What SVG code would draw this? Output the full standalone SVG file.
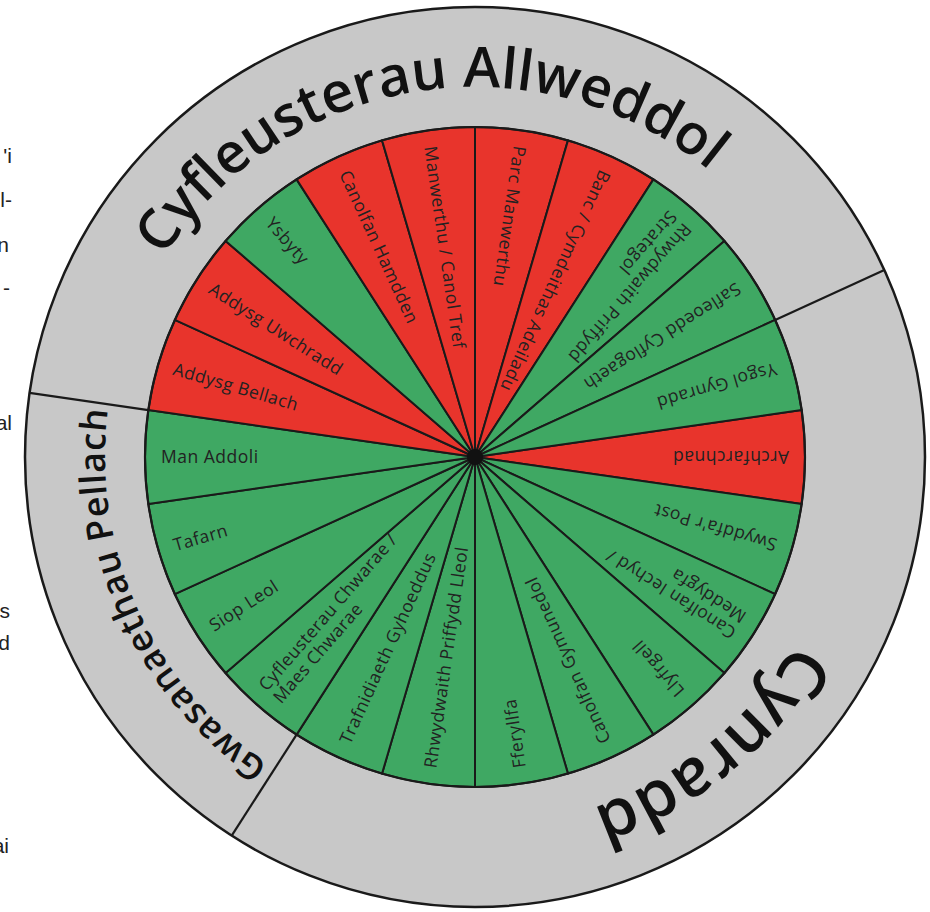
<svg xmlns="http://www.w3.org/2000/svg" width="930" height="912" viewBox="0 0 930 912">
<style>
.g{fill:#3fa863}
.r{fill:#e8342c}
.wedge path{stroke:#1a1a1a;stroke-width:2;stroke-linejoin:round}
.lbl{font-family:"Open Sans","Noto Sans",sans-serif;font-size:17.5px;fill:#222;letter-spacing:0.5px}
.ttl{font-family:"Open Sans","Noto Sans",sans-serif;font-weight:600;fill:#111}
.frag{font-family:"Liberation Sans",Arial,sans-serif;font-size:21px;fill:#222}
.div{stroke:#1a1a1a;stroke-width:2.2}
</style>
<defs>
<path id="ring" d="M845,457 A370,370 0 1 1 105,457 A370,370 0 1 1 845,457" fill="none"/>
</defs>
<rect width="930" height="912" fill="#ffffff"/>
<g id="fragments" class="frag" text-anchor="end">
<text x="12" y="163">'i</text>
<text x="12" y="207">l-</text>
<text x="9" y="252">n</text>
<text x="10" y="295">-</text>
<text x="12" y="430">al</text>
<text x="10" y="618">s</text>
<text x="10" y="650">d</text>
<text x="9" y="853">ai</text>
</g>
<g id="outer-ring">
<circle cx="475" cy="457" r="450" fill="#c8c8c8" stroke="#1a1a1a" stroke-width="2.5"/>
</g>
<g id="connectors">
<line class="div" x1="775.18" y1="319.91" x2="884.33" y2="270.06"/>
<line class="div" x1="296.59" y1="734.61" x2="231.71" y2="835.56"/>
<line class="div" x1="148.36" y1="410.04" x2="29.58" y2="392.96"/>
</g>
<g id="titles" class="ttl">
<text font-size="56"><textPath href="#ring" startOffset="1685" text-anchor="middle">Cyfleusterau Allweddol</textPath></text>
<text font-size="66"><textPath href="#ring" startOffset="328" text-anchor="middle">Cynradd</textPath></text>
<text font-size="36" letter-spacing="0.8"><textPath href="#ring" startOffset="1005" text-anchor="middle">Gwasanaethau Pellach</textPath></text>
</g>
<g id="wedges" class="wedge">
<g id="n-archfarchnad"><path class="r" d="M475,457 L801.64,410.04 A330,330 0 0 1 801.64,503.96 Z"/></g>
<g id="n-swyddfa"><path class="g" d="M475,457 L801.64,503.96 A330,330 0 0 1 775.18,594.09 Z"/></g>
<g id="n-canolfan-iechyd"><path class="g" d="M475,457 L775.18,594.09 A330,330 0 0 1 724.40,673.10 Z"/></g>
<g id="n-llyfrgell"><path class="g" d="M475,457 L724.40,673.10 A330,330 0 0 1 653.41,734.61 Z"/></g>
<g id="n-canolfan-gymunedol"><path class="g" d="M475,457 L653.41,734.61 A330,330 0 0 1 567.97,773.63 Z"/></g>
<g id="n-fferyllfa"><path class="g" d="M475,457 L567.97,773.63 A330,330 0 0 1 475,787 Z"/></g>
<g id="n-rhwydwaith-lleol"><path class="g" d="M475,457 L475,787 A330,330 0 0 1 382.03,773.63 Z"/></g>
<g id="n-trafnidiaeth"><path class="g" d="M475,457 L382.03,773.63 A330,330 0 0 1 296.59,734.61 Z"/></g>
<g id="n-cyfleusterau-chwarae"><path class="g" d="M475,457 L296.59,734.61 A330,330 0 0 1 225.60,673.10 Z"/></g>
<g id="n-siop-leol"><path class="g" d="M475,457 L225.60,673.10 A330,330 0 0 1 174.82,594.09 Z"/></g>
<g id="n-tafarn"><path class="g" d="M475,457 L174.82,594.09 A330,330 0 0 1 148.36,503.96 Z"/></g>
<g id="n-man-addoli"><path class="g" d="M475,457 L148.36,503.96 A330,330 0 0 1 148.36,410.04 Z"/></g>
<g id="n-addysg-bellach"><path class="r" d="M475,457 L148.36,410.04 A330,330 0 0 1 174.82,319.91 Z"/></g>
<g id="n-addysg-uwchradd"><path class="r" d="M475,457 L174.82,319.91 A330,330 0 0 1 225.60,240.90 Z"/></g>
<g id="n-ysbyty"><path class="g" d="M475,457 L225.60,240.90 A330,330 0 0 1 296.59,179.39 Z"/></g>
<g id="n-canolfan-hamdden"><path class="r" d="M475,457 L296.59,179.39 A330,330 0 0 1 382.03,140.37 Z"/></g>
<g id="n-manwerthu-canol-tref"><path class="r" d="M475,457 L382.03,140.37 A330,330 0 0 1 475,127 Z"/></g>
<g id="n-parc-manwerthu"><path class="r" d="M475,457 L475,127 A330,330 0 0 1 567.97,140.37 Z"/></g>
<g id="n-banc"><path class="r" d="M475,457 L567.97,140.37 A330,330 0 0 1 653.41,179.39 Z"/></g>
<g id="n-rhwydwaith-strategol"><path class="g" d="M475,457 L653.41,179.39 A330,330 0 0 1 724.40,240.90 Z"/></g>
<g id="n-safleoedd"><path class="g" d="M475,457 L724.40,240.90 A330,330 0 0 1 775.18,319.91 Z"/></g>
<g id="n-ysgol-gynradd"><path class="g" d="M475,457 L775.18,319.91 A330,330 0 0 1 801.64,410.04 Z"/></g>
</g>
<circle cx="475" cy="457" r="330" fill="none" stroke="#1a1a1a" stroke-width="2.2"/>
<g id="labels" class="lbl">
<text transform="translate(475 457) rotate(180)" x="-314" dy="0.35em">Archfarchnad</text>
<text transform="translate(475 457) rotate(196.364)" x="-314" dy="0.35em">Swyddfa'r Post</text>
<text transform="translate(475 457) rotate(212.727)" x="-314" y="-9.5" dy="0.35em">Canolfan Iechyd /</text>
<text transform="translate(475 457) rotate(212.727)" x="-314" y="9.5" dy="0.35em">Meddygfa</text>
<text transform="translate(475 457) rotate(229.091)" x="-314" dy="0.35em">Llyfrgell</text>
<text transform="translate(475 457) rotate(245.455)" x="-314" dy="0.35em">Canolfan Gymunedol</text>
<text transform="translate(475 457) rotate(261.818)" x="-314" dy="0.35em">Fferyllfa</text>
<text transform="translate(475 457) rotate(278.182)" x="-314" dy="0.35em">Rhwydwaith Priffydd Lleol</text>
<text transform="translate(475 457) rotate(294.545)" x="-314" dy="0.35em">Trafnidiaeth Gyhoeddus</text>
<text transform="translate(475 457) rotate(310.909)" x="-314" y="-9.5" dy="0.35em">Cyfleusterau Chwarae /</text>
<text transform="translate(475 457) rotate(310.909)" x="-314" y="9.5" dy="0.35em">Maes Chwarae</text>
<text transform="translate(475 457) rotate(327.273)" x="-314" dy="0.35em">Siop Leol</text>
<text transform="translate(475 457) rotate(343.636)" x="-314" dy="0.35em">Tafarn</text>
<text transform="translate(475 457)" x="-314" dy="0.35em">Man Addoli</text>
<text transform="translate(475 457) rotate(16.364)" x="-314" dy="0.35em">Addysg Bellach</text>
<text transform="translate(475 457) rotate(32.727)" x="-314" dy="0.35em">Addysg Uwchradd</text>
<text transform="translate(475 457) rotate(49.091)" x="-314" dy="0.35em">Ysbyty</text>
<text transform="translate(475 457) rotate(65.455)" x="-314" dy="0.35em">Canolfan Hamdden</text>
<text transform="translate(475 457) rotate(81.818)" x="-314" dy="0.35em">Manwerthu / Canol Tref</text>
<text transform="translate(475 457) rotate(98.182)" x="-314" dy="0.35em">Parc Manwerthu</text>
<text transform="translate(475 457) rotate(114.545)" x="-314" dy="0.35em">Banc / Cymdeithas Adeiladu</text>
<text transform="translate(475 457) rotate(130.909)" x="-314" y="-9.5" dy="0.35em">Rhwydwaith Priffydd</text>
<text transform="translate(475 457) rotate(130.909)" x="-314" y="9.5" dy="0.35em">Strategol</text>
<text transform="translate(475 457) rotate(147.273)" x="-314" dy="0.35em">Safleoedd Cyflogaeth</text>
<text transform="translate(475 457) rotate(163.636)" x="-314" dy="0.35em">Ysgol Gynradd</text>
</g>
<circle id="hub" cx="475" cy="457" r="8" fill="#111"/>
</svg>
